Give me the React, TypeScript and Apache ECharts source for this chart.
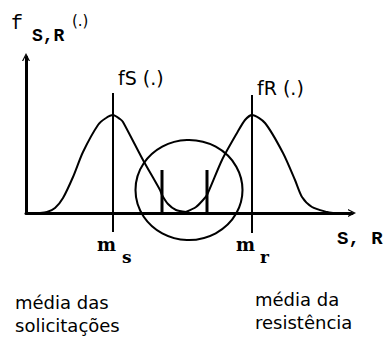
import React, { useEffect, useRef } from "react";
import * as echarts from "echarts";

// Density curves of load (S) and resistance (R), in axis units
const fSCurve: [number, number][] = [
  [14, 0], [21, 1], [29, 5], [37, 15], [47, 36], [57, 61], [72, 88], [80, 95],
  [87, 98], [94, 94], [97, 91], [117, 53], [134, 23], [136, 18], [142, 9],
  [150, 3], [160, 1],
];
const fRCurve: [number, number][] = [
  [160, 1], [170, 6], [177, 13], [181, 18], [196, 53], [211, 80], [219, 93],
  [226, 98], [239, 90], [257, 60], [269, 33], [276, 16], [286, 6], [301, 1],
  [307, 0],
];

// Means of S and R, with the vertical extent of their marker lines
const meanS = 87;
const meanR = 226;
const meanSRange: [number, number] = [-19, 120];
const meanRRange: [number, number] = [-20, 118];

// Short markers inside the overlap zone
const overlapMarks = [136, 181];
const overlapMarkHeight = 43;

// Highlight circle around the overlap zone: centre and size
const overlapCentre: [number, number] = [163, 23];
const overlapSize: [number, number] = [107, 100];

const xMax = 326;
const yMax = 156;

const chevron = "path://M0 10 L5 0 L10 10 L8.4 10 L5 3.2 L1.6 10 Z";

export default function App() {
  const ref = useRef<HTMLDivElement>(null);

  useEffect(() => {
    if (!ref.current) return;
    const chart = echarts.init(ref.current, null, { renderer: "svg" });

    const lineStyle = { color: "#000", width: 2 };
    const vertical = (x: number, r: [number, number]) => [
      [x, r[0]],
      [x, r[1]],
    ];

    const mono = "Liberation Mono";
    const sans = "DejaVu Sans";
    const serif = "DejaVu Serif";
    const txt = (
      text: string,
      x: number,
      y: number,
      font: string,
      size: number,
      weight: string = "normal"
    ) => ({
      type: "text",
      x,
      y,
      silent: true,
      style: {
        text,
        fontFamily: font,
        fontSize: size,
        fontWeight: weight,
        fill: "#000",
        verticalAlign: "middle",
        align: "left",
      },
    });

    chart.setOption({
      animation: false,
      backgroundColor: "#fff",
      grid: { left: 26, right: 38, top: 57, bottom: 130 },
      xAxis: {
        type: "value",
        min: 0,
        max: xMax,
        axisLine: {
          lineStyle: { color: "#000", width: 3 },
          symbol: ["none", chevron],
          symbolSize: [10, 8],
        },
        axisTick: { show: false },
        axisLabel: { show: false },
        splitLine: { show: false },
      },
      yAxis: {
        type: "value",
        min: 0,
        max: yMax,
        axisLine: {
          show: true,
          lineStyle: { color: "#000", width: 3 },
          symbol: ["none", chevron],
          symbolSize: [10, 8],
        },
        axisTick: { show: false },
        axisLabel: { show: false },
        splitLine: { show: false },
      },
      series: [
        {
          name: "fS",
          type: "line",
          data: fSCurve,
          smooth: 0.25,
          showSymbol: false,
          clip: false,
          lineStyle,
        },
        {
          name: "fR",
          type: "line",
          data: fRCurve,
          smooth: 0.25,
          showSymbol: false,
          clip: false,
          lineStyle,
        },
        {
          name: "ms",
          type: "line",
          data: vertical(meanS, meanSRange),
          showSymbol: false,
          clip: false,
          lineStyle,
        },
        {
          name: "mr",
          type: "line",
          data: vertical(meanR, meanRRange),
          showSymbol: false,
          clip: false,
          lineStyle,
        },
        ...overlapMarks.map((x, i) => ({
          name: "mark" + i,
          type: "line",
          data: vertical(x, [0, overlapMarkHeight]),
          showSymbol: false,
          clip: false,
          lineStyle: { color: "#000", width: 3 },
        })),
        {
          name: "overlap",
          type: "scatter",
          data: [overlapCentre],
          symbol: "circle",
          symbolSize: overlapSize,
          clip: false,
          silent: true,
          itemStyle: {
            color: "none",
            borderColor: "#000",
            borderWidth: 2,
            opacity: 1,
          },
        },
      ],
      graphic: [
        txt("f", 11, 23, mono, 20),
        txt("S,R", 32, 36, mono, 18, "bold"),
        txt("(.)", 72, 21, sans, 15),
        txt("fS (.)", 118, 78, sans, 19),
        txt("fR (.)", 257, 88, sans, 19),
        txt("m", 97, 244, serif, 18, "bold"),
        txt("s", 122, 257, serif, 17, "bold"),
        txt("m", 236, 244, serif, 18, "bold"),
        txt("r", 260, 257, serif, 17, "bold"),
        txt("S, R", 337, 239, mono, 19, "bold"),
        txt("média das", 15, 302, sans, 18),
        txt("solicitações", 15, 325, sans, 18),
        txt("média da", 255, 299, sans, 18),
        txt("resistência", 255, 322, sans, 18),
      ],
    });

    return () => chart.dispose();
  }, []);

  return (
    <div
      ref={ref}
      style={{ position: "fixed", left: 0, top: 0, width: 390, height: 343 }}
    />
  );
}
